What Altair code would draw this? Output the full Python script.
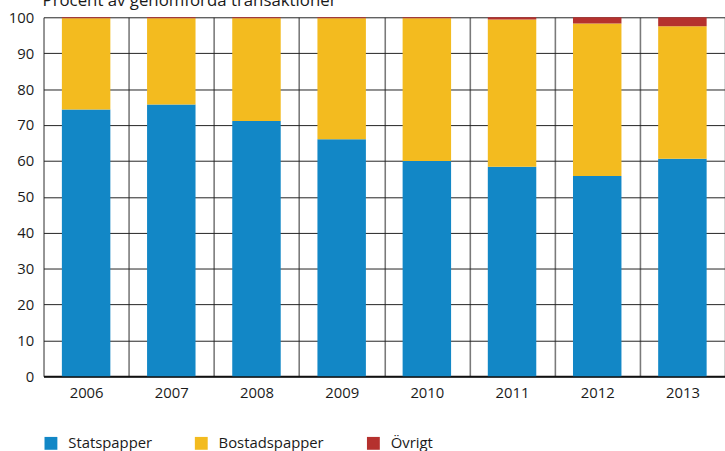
import altair as alt
import pandas as pd

years = ["2006", "2007", "2008", "2009", "2010", "2011", "2012", "2013"]
statspapper = [74.3, 75.7, 71.1, 66.0, 60.0, 58.4, 55.8, 60.6]
bostadspapper = [25.4, 24.0, 28.6, 33.7, 39.7, 41.0, 42.5, 36.9]
ovrigt = [0.3, 0.3, 0.3, 0.3, 0.3, 0.6, 1.7, 2.5]
series = ["Statspapper", "Bostadspapper", "Övrigt"]
colors = ["#1287C6", "#F3BB1F", "#B5312E"]
title_text = "Procent av genomförda transaktioner"

rows = []
for i, y in enumerate(years):
    for rank, (name, vals) in enumerate(zip(series, [statspapper, bostadspapper, ovrigt])):
        rows.append({"year": y, "serie": name, "value": vals[i], "rank": rank})
df = pd.DataFrame(rows)

FONT = "Open Sans"

bars = alt.Chart(df).mark_bar(size=49).encode(
    x=alt.X("year:N", title=None, sort=years,
            scale=alt.Scale(paddingInner=0, paddingOuter=0),
            axis=alt.Axis(tickBand="extent", grid=True, gridColor="#7a7a7a", gridWidth=1.6,
                          ticks=False, domain=True, domainColor="#111111", domainWidth=2,
                          labelAngle=0, labelPadding=9, labelFontSize=15, labelColor="#1a1a1a",
                          labelFont=FONT)),
    y=alt.Y("value:Q", title=None, stack="zero",
            scale=alt.Scale(domain=[0, 100], nice=False),
            axis=alt.Axis(values=list(range(0, 101, 10)), grid=True, gridColor="#222222",
                          gridWidth=1, ticks=False, domain=False, labelPadding=10,
                          labelFontSize=15, labelColor="#1a1a1a", labelFont=FONT)),
    color=alt.Color("serie:N", sort=series,
                    scale=alt.Scale(domain=series, range=colors),
                    legend=alt.Legend(title=None, orient="none", direction="horizontal",
                                      legendX=0, legendY=423, symbolType="square",
                                      symbolSize=169, symbolStrokeWidth=0, labelOffset=10,
                                      columnPadding=42, labelFontSize=15, labelFont=FONT,
                                      labelColor="#1a1a1a", padding=0)),
    order=alt.Order("rank:Q", sort="ascending"),
)

title = alt.Chart(pd.DataFrame({"t": [title_text]})).mark_text(
    align="left", baseline="alphabetic", fontSize=17, font=FONT, color="#1a1a1a"
).encode(x=alt.value(-1), y=alt.value(-11), text="t:N")

chart = alt.layer(bars, title).properties(
    width=689, height=363,
    autosize="none",
    padding={"left": 44, "top": 15, "right": 0, "bottom": 73},
).configure_view(stroke=None)

chart.save("out.html", embed_options={"renderer": "svg", "actions": False})
